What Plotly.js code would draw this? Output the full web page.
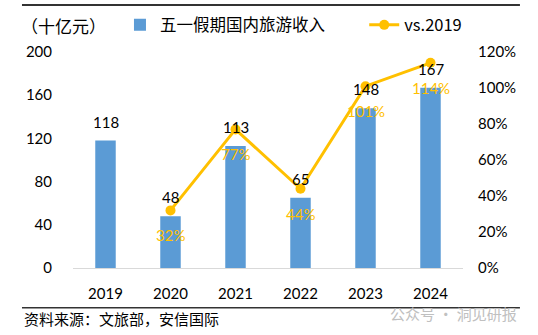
<!DOCTYPE html>
<html>
<head>
<meta charset="utf-8">
<script src="https://cdn.plot.ly/plotly-3.0.1.min.js"></script>
<style>html,body{margin:0;padding:0;background:#fff;}#chart{width:538px;height:335px;}</style>
</head>
<body>
<div id="chart"></div>
<script>
const years = ['2019', '2020', '2021', '2022', '2023', '2024'];
const revenue = [118, 48, 113, 65, 148, 167];
const ratioYears = ['2020', '2021', '2022', '2023', '2024'];
const ratio = [0.32, 0.77, 0.44, 1.01, 1.14];
const leftTicks = [0, 40, 80, 120, 160, 200];
const rightTicks = [0, 0.2, 0.4, 0.6, 0.8, 1.0, 1.2];

const FONT = 'Lato, "Noto Sans CJK SC", sans-serif';
const CJK = '"Noto Sans CJK SC", sans-serif';
const BLUE = '#5B9BD5';
const GOLD = '#FFC000';

const traces = [
  {
    type: 'bar', name: '五一假期国内旅游收入', x: years, y: revenue,
    marker: {color: BLUE}, yaxis: 'y', legend: 'legend'
  },
  {
    type: 'scatter', mode: 'lines+markers', name: 'vs.2019', x: ratioYears, y: ratio,
    yaxis: 'y2', line: {color: GOLD, width: 3}, marker: {color: GOLD, size: 10}, legend: 'legend2'
  }
];

const annotations = [];
years.forEach((yr, i) => annotations.push({
  x: i, y: revenue[i], xref: 'x', yref: 'y', text: String(revenue[i]),
  showarrow: false, yanchor: 'middle', yshift: 19,
  font: {family: FONT, size: 15, color: '#000'}
}));
ratioYears.forEach((yr, i) => annotations.push({
  x: years.indexOf(yr), y: ratio[i], xref: 'x', yref: 'y2', text: Math.round(ratio[i] * 100) + '%',
  showarrow: false, yanchor: 'middle', yshift: -25,
  font: {family: FONT, size: 15, color: GOLD}
}));
annotations.push({
  x: -0.138, y: 1.125, xref: 'paper', yref: 'paper', xanchor: 'left', yanchor: 'middle',
  text: '（十亿元）', showarrow: false, font: {family: CJK, size: 17, color: '#000'}
});
annotations.push({
  x: -0.131, y: -0.232, xref: 'paper', yref: 'paper', xanchor: 'left', yanchor: 'middle',
  text: '资料来源：文旅部，安信国际', showarrow: false, font: {family: CJK, size: 15, color: '#000'}
});
annotations.push({
  x: 1.1436, y: -0.212, xref: 'paper', yref: 'paper', xanchor: 'right', yanchor: 'middle',
  text: '公众号 · 洞见研报', showarrow: false, font: {family: CJK, size: 15, color: '#c0c0c0'}
});

const legendBase = {
  orientation: 'h', xref: 'container', yref: 'container', yanchor: 'middle', y: 0.925, xanchor: 'left',
  font: {family: CJK, size: 16.5, color: '#000'}, bgcolor: 'rgba(0,0,0,0)'
};

const layout = {
  width: 538, height: 335,
  margin: {l: 73, r: 75, t: 52, b: 67},
  paper_bgcolor: '#fff', plot_bgcolor: '#fff',
  font: {family: FONT, size: 15, color: '#000'},
  bargap: 0.685,
  showlegend: true,
  legend: Object.assign({}, legendBase, {x: 0.223}),
  legend2: Object.assign({}, legendBase, {x: 0.677}),
  xaxis: {
    type: 'category', range: [-0.5, 5.5], showgrid: false, zeroline: false,
    showline: true, linecolor: '#D9D9D9', linewidth: 1,
    ticks: '', ticklabelstandoff: 12,
    tickfont: {family: FONT, size: 15, color: '#000'}
  },
  yaxis: {
    range: [0, 200], tickvals: leftTicks, showgrid: false, zeroline: false,
    showline: false, ticks: '', ticklabelstandoff: 20,
    tickfont: {family: FONT, size: 15, color: '#000'}
  },
  yaxis2: {
    range: [0, 1.2], tickvals: rightTicks, tickformat: '.0%', overlaying: 'y', side: 'right',
    showgrid: false, zeroline: false, showline: false, ticks: '', ticklabelstandoff: 14,
    tickfont: {family: FONT, size: 15, color: '#000'}
  },
  annotations: annotations,
  shapes: [
    {type: 'line', xref: 'paper', yref: 'paper', x0: -0.1308, x1: 1.146, y0: 1.218, y1: 1.218,
     line: {color: '#333333', width: 2}},
    {type: 'line', xref: 'paper', yref: 'paper', x0: -0.1308, x1: 1.146, y0: -0.184, y1: -0.184,
     line: {color: '#333333', width: 1.5}}
  ]
};

Plotly.newPlot('chart', traces, layout, {displayModeBar: false, staticPlot: true});
</script>
</body>
</html>
